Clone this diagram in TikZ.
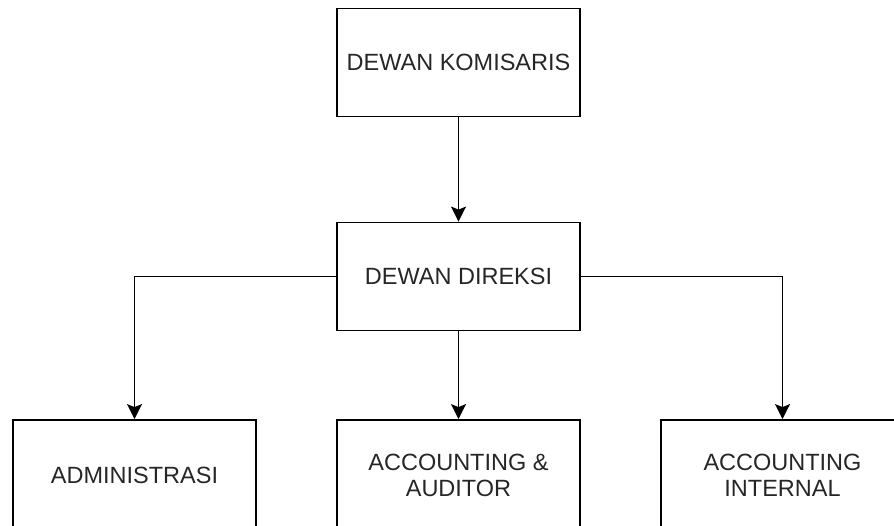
\documentclass[tikz,border=0pt]{standalone}
\usepackage{fontspec}
\setmainfont{Liberation Sans}
\usepackage{tikz}
\usetikzlibrary{arrows.meta,positioning}

\begin{document}
\begin{tikzpicture}[x=1pt, y=-1pt,
    jabatan/.style={draw, line width=1.8pt, minimum width=243pt, minimum height=108pt,
                    align=center, text=black!85, font=\fontsize{23.5}{26}\selectfont},
    garis/.style={line width=1.8pt, -{Stealth[length=15pt,width=15pt,inset=3pt]}}]
  % struktur organisasi
  \useasboundingbox (0,0) rectangle (894,525);
  \node[jabatan] (komisaris) at (458.5,62.5) {DEWAN KOMISARIS};
  \node[jabatan] (direksi) at (458.5,276.5) {DEWAN DIREKSI};
  \node[jabatan, minimum height=110pt] (admin) at (134.5,475) {ADMINISTRASI};
  \node[jabatan, minimum height=110pt] (auditor) at (458.5,475) {ACCOUNTING \&\\AUDITOR};
  \node[jabatan, minimum height=110pt] (internal) at (782.5,475) {ACCOUNTING\\INTERNAL};

  \draw[garis] (komisaris) -- (direksi);
  \draw[garis] (direksi.west) -| (admin.north);
  \draw[garis] (direksi) -- (auditor);
  \draw[garis] (direksi.east) -| (internal.north);
\end{tikzpicture}
\end{document}
